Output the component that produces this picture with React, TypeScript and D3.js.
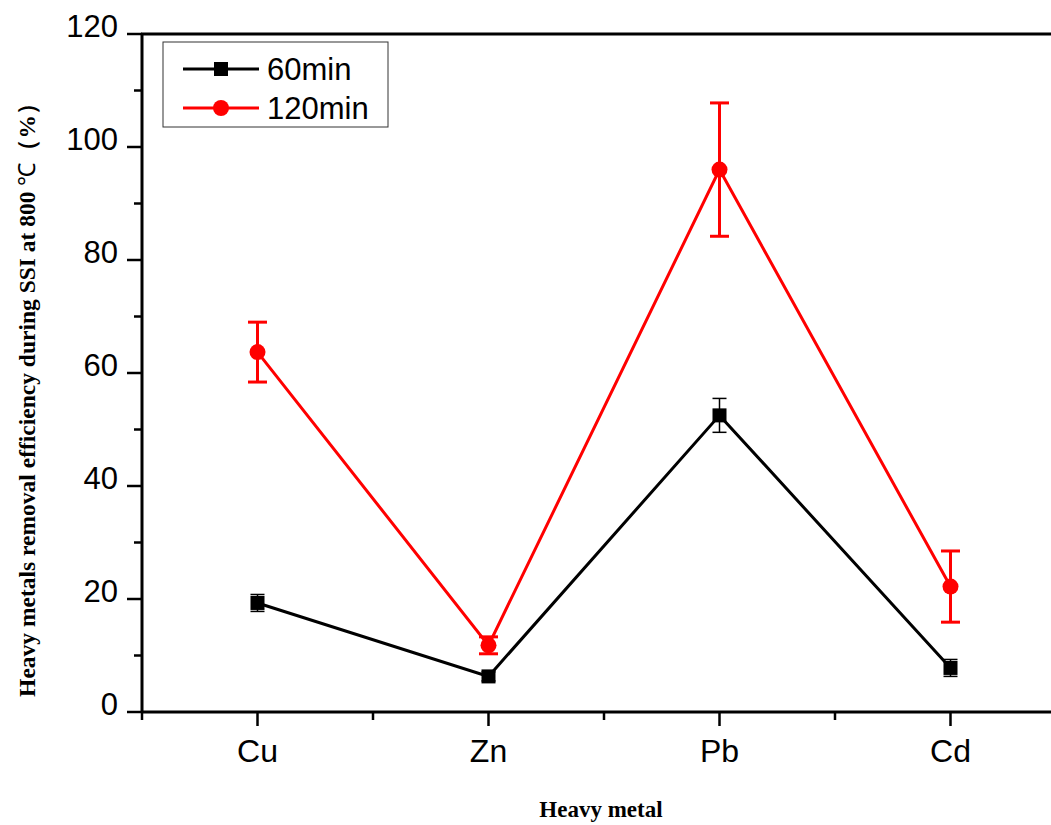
import React from "react";
import * as d3 from "d3";

const categories = ["Cu", "Zn", "Pb", "Cd"];
const series60 = [19.3, 6.3, 52.5, 7.8];
const err60 = [1.5, 0.8, 3.0, 1.5];
const series120 = [63.7, 11.8, 96.0, 22.2];
const err120 = [5.3, 1.5, 11.8, 6.3];
const yTicks = [0, 20, 40, 60, 80, 100, 120];
const yMinorTicks = [10, 30, 50, 70, 90, 110];
const xMinorTicks = [0.5, 1.5, 2.5, 3.5];
const seriesNames = ["60min", "120min"];

const W = 1051;
const H = 825;
const left = 142;
const top = 34;
const bottom = 712;

export default function App() {
  const x = d3.scaleLinear().domain([0.5, 4.5]).range([left, left + 4 * 231]);
  const y = d3.scaleLinear().domain([0, 120]).range([bottom, top]);
  const line = d3
    .line<number>()
    .x((_, i) => x(i + 1))
    .y((d) => y(d));

  const sans = "Liberation Sans, Arial, sans-serif";
  const serif = "Liberation Serif, Times New Roman, serif";

  return (
    <svg
      width={W}
      height={H}
      style={{ position: "absolute", left: 0, top: 0, background: "#fff" }}
    >
      {/* axes */}
      <line x1={left} x2={left} y1={top} y2={bottom + 1} stroke="#000" strokeWidth={3} />
      <line x1={left - 1} x2={W} y1={bottom} y2={bottom} stroke="#000" strokeWidth={3} />
      <line x1={left - 1} x2={W} y1={top} y2={top} stroke="#000" strokeWidth={3} />

      {yTicks.map((t) => (
        <g key={"y" + t}>
          <line x1={left - 15} x2={left} y1={y(t)} y2={y(t)} stroke="#000" strokeWidth={2.5} />
          <text
            x={118}
            y={y(t) + 3}
            textAnchor="end"
            fontFamily={sans}
            fontSize={31}
          >
            {t}
          </text>
        </g>
      ))}
      {yMinorTicks.map((t) => (
        <line key={"ym" + t} x1={left - 8} x2={left} y1={y(t)} y2={y(t)} stroke="#000" strokeWidth={2.5} />
      ))}
      {categories.map((c, i) => (
        <g key={c}>
          <line x1={x(i + 1)} x2={x(i + 1)} y1={bottom} y2={bottom + 14} stroke="#000" strokeWidth={2.5} />
          <text
            x={x(i + 1)}
            y={762}
            textAnchor="middle"
            fontFamily={sans}
            fontSize={32}
          >
            {c}
          </text>
        </g>
      ))}
      {xMinorTicks.map((t) => (
        <line key={"xm" + t} x1={x(t)} x2={x(t)} y1={bottom} y2={bottom + 8} stroke="#000" strokeWidth={2.5} />
      ))}

      {/* axis titles */}
      <text
        x={601}
        y={817}
        textAnchor="middle"
        fontFamily={serif}
        fontWeight="bold"
        fontSize={23}
      >
        Heavy metal
      </text>
      <text
        transform={`translate(35, 394) rotate(-90)`}
        textAnchor="middle"
        fontFamily={serif}
        fontWeight="bold"
        fontSize={23.5}
      >
        Heavy metals removal efficiency during SSI at 800{" "}
        <tspan fontWeight="normal">℃</tspan>（%）
      </text>

      {/* 60min series */}
      <path d={line(series60) || ""} fill="none" stroke="#000" strokeWidth={3} />
      {series60.map((v, i) => (
        <g key={"b" + i}>
          <line x1={x(i + 1)} x2={x(i + 1)} y1={y(v + err60[i])} y2={y(v - err60[i])} stroke="#000" strokeWidth={1.5} />
          <line x1={x(i + 1) - 7} x2={x(i + 1) + 7} y1={y(v + err60[i])} y2={y(v + err60[i])} stroke="#000" strokeWidth={1.5} />
          <line x1={x(i + 1) - 7} x2={x(i + 1) + 7} y1={y(v - err60[i])} y2={y(v - err60[i])} stroke="#000" strokeWidth={1.5} />
          <rect x={x(i + 1) - 7} y={y(v) - 7} width={14} height={14} fill="#000" />
        </g>
      ))}

      {/* 120min series */}
      <path d={line(series120) || ""} fill="none" stroke="#ff0000" strokeWidth={3} />
      {series120.map((v, i) => (
        <g key={"r" + i}>
          <line x1={x(i + 1)} x2={x(i + 1)} y1={y(v + err120[i])} y2={y(v - err120[i])} stroke="#ff0000" strokeWidth={3} />
          <line x1={x(i + 1) - 9.5} x2={x(i + 1) + 9.5} y1={y(v + err120[i])} y2={y(v + err120[i])} stroke="#ff0000" strokeWidth={3} />
          <line x1={x(i + 1) - 9.5} x2={x(i + 1) + 9.5} y1={y(v - err120[i])} y2={y(v - err120[i])} stroke="#ff0000" strokeWidth={3} />
          <circle cx={x(i + 1)} cy={y(v)} r={8} fill="#ff0000" />
        </g>
      ))}

      {/* legend */}
      <rect x={163} y={42} width={225} height={85} fill="#fff" stroke="#333" strokeWidth={1} />
      <line x1={183} x2={259} y1={69} y2={69} stroke="#000" strokeWidth={3} />
      <rect x={214} y={62} width={14} height={14} fill="#000" />
      <text x={267} y={80} fontFamily={sans} fontSize={31}>
        {seriesNames[0]}
      </text>
      <line x1={183} x2={259} y1={108} y2={108} stroke="#ff0000" strokeWidth={3} />
      <circle cx={221} cy={108} r={8} fill="#ff0000" />
      <text x={267} y={119} fontFamily={sans} fontSize={31}>
        {seriesNames[1]}
      </text>
    </svg>
  );
}
